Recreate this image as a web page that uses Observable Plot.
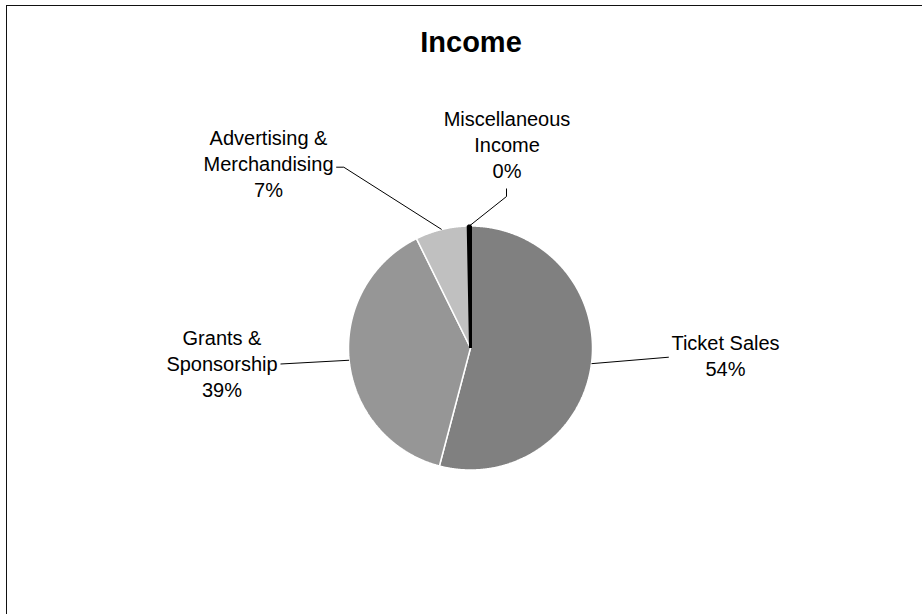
<!DOCTYPE html>
<html>
<head>
<meta charset="utf-8">
<script src="https://cdn.jsdelivr.net/npm/d3@7"></script>
<script src="https://cdn.jsdelivr.net/npm/@observablehq/plot@0.6"></script>
<style>
  html, body { margin: 0; padding: 0; background: #fff; }
  #wrap { position: relative; width: 922px; height: 614px; overflow: hidden;
          font-family: 'Liberation Sans', Arial, sans-serif; }
  #frame { position: absolute; left: 6px; top: 5px; width: 2000px; height: 2000px;
           border-left: 1px solid #111; border-top: 1px solid #111; }
  #title { position: absolute; left: 321px; width: 300px; top: 28px; text-align: center;
           font-size: 29px; line-height: 29px; font-weight: bold; color: #000; }
  #chart { position: absolute; left: 0; top: 70px; }
</style>
</head>
<body>
<div id="wrap">
  <div id="frame"></div>
  <div id="title">Income</div>
  <div id="chart"></div>
</div>
<script>
// ---- data ----
const categories = ["Ticket Sales", "Grants & Sponsorship", "Advertising & Merchandising", "Miscellaneous Income"];
const labelText = ["Ticket Sales", "Grants &\nSponsorship", "Advertising &\nMerchandising", "Miscellaneous\nIncome"];
const shares = [54.1, 38.6, 7.0, 0.3];
const palette = ["#808080", "#969696", "#c0c0c0", "#000000"];

// ---- layout (pixels) ----
const W = 922, H = 544, R = 122, CX = 470, CY = 277.5;
// label anchor: centre x, baseline of last line; offsets from pie centre (x right, y down)
const labelAnchors = [[255, 28], [-248.5, 49], [-202, -151], [36.5, -170]];
// leader line bend points after the slice edge point
const leaderBends = [
  [[198.3, 9.2]],
  [[-190, 16]],
  [[-126.7, -180.8], [-134.3, -180.8]],
  [[36, -151.5], [36, -159.5]]
];
const toX = px => px / R, toY = py => -py / R;

const arcs = d3.pie().sort(null).value(d => d)(shares);

const sliceMarks = arcs.map((a, i) => {
  const n = Math.max(2, Math.ceil((a.endAngle - a.startAngle) / 0.005));
  const pts = [{x: 0, y: 0}];
  for (let k = 0; k <= n; k++) {
    const t = a.startAngle + (a.endAngle - a.startAngle) * k / n;
    pts.push({x: Math.sin(t), y: Math.cos(t)});
  }
  const isMisc = i === 3;
  return Plot.line(pts, {
    x: "x", y: "y", curve: "linear-closed",
    fill: palette[i],
    stroke: isMisc ? "#000" : "#fff",
    strokeWidth: isMisc ? 3 : 1.5,
    strokeLinejoin: "miter", strokeLinecap: "butt"
  });
});

const leaders = [];
arcs.forEach((a, i) => {
  const mid = (a.startAngle + a.endAngle) / 2;
  leaders.push({x: Math.sin(mid), y: Math.cos(mid), k: i});
  leaderBends[i].forEach(([dx, dy]) => leaders.push({x: toX(dx), y: toY(dy), k: i}));
});

const labels = categories.map((c, i) => ({
  x: toX(labelAnchors[i][0]),
  y: toY(labelAnchors[i][1]),
  text: labelText[i] + "\n" + d3.format(".0f")(shares[i]) + "%"
}));

const chart = Plot.plot({
  width: W, height: H, margin: 0,
  x: {domain: [-CX / R, (W - CX) / R], axis: null},
  y: {domain: [-(H - CY) / R, CY / R], axis: null},
  style: {fontFamily: "'Liberation Sans', Arial, sans-serif", background: "transparent", overflow: "visible"},
  marks: [
    ...sliceMarks,
    Plot.line(leaders, {x: "x", y: "y", z: "k", stroke: "#000", strokeWidth: 1, strokeLinecap: "butt", curve: "linear"}),
    Plot.text(labels, {x: "x", y: "y", text: "text", lineAnchor: "bottom", textAnchor: "middle",
                       fontSize: 20, lineHeight: 1.3, fill: "#000"})
  ]
});
document.getElementById("chart").appendChild(chart);
</script>
</body>
</html>
